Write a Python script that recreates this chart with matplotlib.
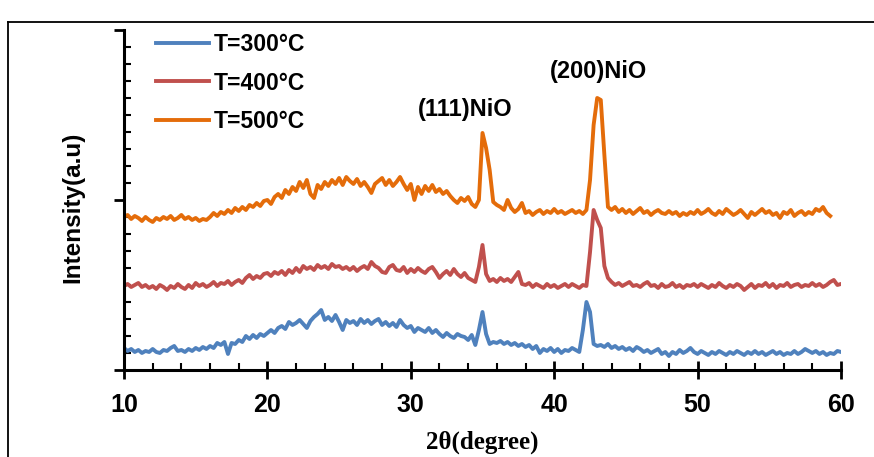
import numpy as np
import matplotlib
matplotlib.use("Agg")
import matplotlib.pyplot as plt
from matplotlib.ticker import MultipleLocator
from matplotlib.lines import Line2D

# XRD patterns, intensity in a.u. (curves offset as in the figure), step 0.25 deg from 10 deg
step = 0.25
t300 = [
    22, 19, 21, 18, 20, 17, 19, 18, 21, 18, 17, 20, 19, 22, 24, 19, 20, 18, 21, 19,
    22, 20, 23, 21, 24, 22, 27, 25, 28, 16, 27, 26, 30, 28, 34, 31, 35, 32, 36, 34,
    37, 40, 37, 42, 44, 41, 48, 45, 47, 50, 46, 42, 49, 53, 56, 60, 50, 53, 49, 55,
    48, 40, 50, 47, 49, 45, 51, 47, 50, 46, 49, 51, 45, 48, 44, 47, 43, 50, 45, 42,
    44, 38, 42, 40, 38, 42, 37, 40, 36, 33, 37, 34, 32, 36, 34, 33, 30, 35, 25, 40,
    58, 36, 26, 28, 27, 29, 26, 28, 25, 27, 24, 26, 23, 25, 21, 24, 17, 21, 19, 22,
    18, 21, 17, 20, 19, 22, 20, 18, 40, 68, 58, 26, 24, 25, 23, 26, 22, 24, 21, 23,
    20, 22, 19, 23, 21, 18, 20, 17, 19, 21, 16, 18, 14, 18, 16, 20, 17, 19, 22, 18,
    16, 19, 17, 15, 18, 16, 19, 17, 15, 18, 16, 19, 17, 15, 18, 16, 19, 16, 18, 15,
    17, 19, 16, 18, 15, 17, 16, 19, 16, 18, 21, 19, 17, 19, 16, 18, 15, 17, 16, 19,
    18,
]
t400 = [
    84, 86, 83, 85, 87, 83, 85, 82, 84, 81, 85, 83, 80, 84, 82, 86, 83, 81, 85, 82,
    87, 84, 86, 83, 85, 88, 84, 87, 86, 89, 85, 88, 90, 87, 92, 95, 91, 94, 92, 96,
    97, 94, 98, 96, 99, 95, 100, 97, 102, 98, 104, 101, 103, 100, 105, 102, 104, 101, 106, 103,
    104, 101, 103, 100, 103, 99, 102, 104, 101, 108, 104, 102, 98, 97, 103, 105, 100, 99, 103, 97,
    101, 98, 102, 99, 97, 101, 103, 98, 92, 96, 99, 95, 101, 96, 93, 97, 92, 90, 88, 103,
    125, 96, 89, 91, 88, 92, 89, 91, 88, 93, 98, 86, 85, 87, 83, 86, 84, 82, 86, 83,
    85, 82, 84, 86, 83, 86, 84, 82, 85, 84, 118, 160, 150, 142, 104, 92, 88, 85, 87, 84,
    86, 88, 84, 85, 83, 86, 88, 84, 85, 82, 86, 83, 84, 87, 83, 85, 82, 85, 84, 86,
    83, 86, 84, 82, 85, 83, 87, 84, 82, 85, 83, 86, 84, 80, 83, 86, 82, 85, 84, 87,
    83, 86, 82, 85, 84, 87, 83, 85, 86, 83, 85, 84, 87, 84, 86, 83, 85, 88, 90, 85,
    86,
]
t500 = [
    153, 155, 151, 154, 152, 149, 153, 150, 148, 152, 150, 153, 151, 154, 150, 152, 155, 151, 153, 150,
    152, 149, 151, 150, 153, 157, 154, 158, 156, 160, 157, 162, 159, 163, 160, 165, 163, 167, 164, 169,
    170, 166, 173, 176, 172, 180, 176, 183, 179, 188, 182, 190, 176, 172, 185, 181, 188, 184, 190, 186,
    192, 185, 193, 189, 186, 191, 184, 188, 183, 177, 186, 189, 192, 185, 190, 184, 188, 193, 186, 180,
    186, 170, 183, 176, 184, 179, 185, 178, 181, 176, 179, 174, 170, 167, 172, 169, 173, 166, 163, 170,
    237, 222, 200, 168, 165, 163, 160, 170, 162, 158, 161, 167, 157, 159, 155, 158, 160, 156, 159, 157,
    161, 157, 159, 156, 158, 160, 157, 159, 156, 160, 190, 245, 272, 270, 215, 163, 160, 163, 158, 161,
    157, 160, 156, 159, 162, 157, 159, 155, 158, 160, 157, 156, 159, 156, 158, 154, 157, 155, 158, 156,
    160, 156, 158, 161, 157, 155, 159, 156, 161, 158, 155, 157, 160, 156, 152, 158, 155, 158, 161, 157,
    159, 155, 157, 152, 158, 156, 160, 154, 157, 159, 155, 158, 156, 161, 159, 163, 157, 154,
]
labels = ["T=300°C", "T=400°C", "T=500°C"]
colors = ["#4F81BD", "#C0504D", "#E46C0A"]
peaks = [("(111)NiO", 33.8, 260), ("(200)NiO", 43.1, 298)]

fig = plt.figure(figsize=(8.74, 4.57), dpi=100)
ax = fig.add_axes([0.1419, 0.1904, 0.8203, 0.744])

for vals, lab, c in zip([t300, t400, t500], labels, colors):
    x = 10 + step * np.arange(len(vals))
    ax.plot(x, vals, color=c, lw=2.8, label=lab, solid_joinstyle="round")

ax.set_xlim(10, 60)
ax.set_ylim(0, 340)
ax.xaxis.set_major_locator(MultipleLocator(10))
ax.xaxis.set_minor_locator(MultipleLocator(2))
ax.yaxis.set_major_locator(MultipleLocator(170))
ax.yaxis.set_minor_locator(MultipleLocator(17))
ax.set_yticklabels([])
for s in ["top", "right"]:
    ax.spines[s].set_visible(False)
for s in ["left", "bottom"]:
    ax.spines[s].set_linewidth(2.2)
ax.tick_params(axis="x", which="major", direction="inout", length=13, width=2, pad=10)
ax.tick_params(axis="x", which="minor", direction="in", length=5, width=1.5)
ax.tick_params(axis="y", which="major", direction="out", length=7, width=2)
ax.tick_params(axis="y", which="minor", direction="in", length=5, width=1.5)

tickfont = ["Liberation Sans Narrow", "Liberation Sans", "DejaVu Sans"]
for t in ax.get_xticklabels():
    t.set_family(tickfont)
    t.set_fontweight("bold")
    t.set_fontsize(18)

ax.set_xlabel("2θ(degree)", family=["Liberation Serif", "DejaVu Serif"],
              fontweight="bold", fontsize=18, labelpad=10)
ax.set_ylabel("Intensity(a.u)", family=["Liberation Sans", "DejaVu Sans"],
              fontweight="bold", fontsize=17.5, labelpad=18)
ax.yaxis.label.set_y(0.478)

for txt, px, py in peaks:
    ax.text(px, py, txt, ha="center", va="center", fontsize=17, fontweight="bold",
            family=["Liberation Sans", "DejaVu Sans"])

ax.legend(loc="upper left", bbox_to_anchor=(0.045, 0.99), frameon=False,
          borderpad=0, borderaxespad=0, handlelength=2.3, handletextpad=0.22,
          labelspacing=0.66, prop={"family": "Liberation Sans", "weight": "bold", "size": 16.5})

# outer frame (cropped at right and bottom)
fig.add_artist(Line2D([0.0092, 0.0092], [0, 0.952], color="black", lw=1.3,
                      transform=fig.transFigure))
fig.add_artist(Line2D([0.0092, 1], [0.952, 0.952], color="black", lw=1.3,
                      transform=fig.transFigure))

fig.savefig("out.png", dpi=100)
